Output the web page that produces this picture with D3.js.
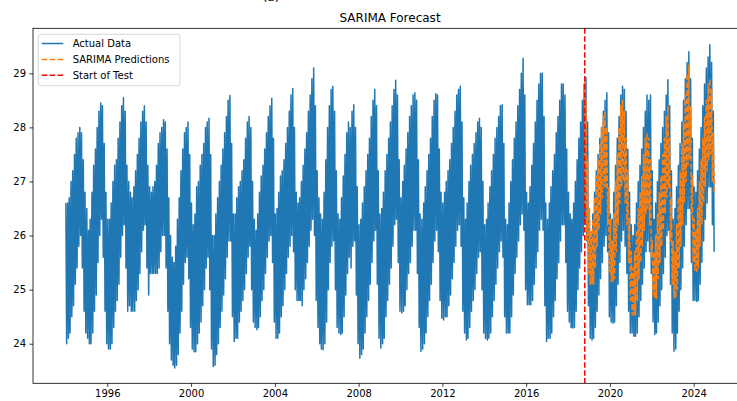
<!DOCTYPE html>
<html>
<head>
<meta charset="utf-8">
<script src="https://cdn.jsdelivr.net/npm/d3@7"></script>
<style>
  body { margin: 0; background: #fff; }
  text { font-family: "DejaVu Sans", sans-serif; }
</style>
</head>
<body>
<svg id="chart"></svg>
<script>
// monthly envelope of the daily series (Jan..Dec per year)
const years = [1994, 1995, 1996, 1997, 1998, 1999, 2000, 2001, 2002, 2003, 2004,
               2005, 2006, 2007, 2008, 2009, 2010, 2011, 2012, 2013, 2014, 2015,
               2016, 2017, 2018, 2019, 2020, 2021, 2022, 2023, 2024];

const actualHigh = [
  [26.6, 26.6, 26.7, 27.0, 27.2, 27.5, 27.8, 27.9, 28.0, 27.9, 27.4, 26.8],
  [26.5, 26.1, 26.3, 26.8, 27.3, 27.6, 28.0, 28.3, 28.45, 28.4, 27.7, 26.8],
  [26.3, 26.3, 26.6, 27.0, 27.3, 27.4, 27.8, 28.1, 28.4, 28.55, 28.3, 27.3],
  [27.0, 26.8, 26.7, 26.9, 27.2, 27.5, 27.8, 28.1, 28.3, 28.4, 28.1, 27.3],
  [26.9, 26.8, 26.9, 27.0, 27.3, 27.7, 27.9, 28.0, 28.14, 28.1, 27.6, 26.7],
  [26.0, 25.6, 25.5, 25.8, 26.3, 26.7, 27.2, 27.6, 27.9, 28.0, 28.1, 27.5],
  [26.6, 26.2, 26.4, 26.9, 27.0, 27.3, 27.5, 27.7, 28.0, 28.1, 28.17, 27.5],
  [26.0, 26.0, 26.4, 26.7, 27.0, 27.3, 27.6, 27.9, 28.2, 28.5, 28.59, 27.7],
  [26.4, 26.4, 26.7, 26.9, 27.0, 27.2, 27.4, 27.8, 28.1, 28.2, 28.0, 27.0],
  [26.3, 26.1, 26.4, 26.8, 27.1, 27.3, 27.6, 27.9, 28.2, 28.4, 28.54, 27.8],
  [26.4, 26.5, 26.8, 27.1, 27.2, 27.4, 27.7, 28.0, 28.3, 28.6, 28.72, 28.0],
  [26.8, 26.6, 26.7, 27.0, 27.3, 27.6, 27.9, 28.3, 28.6, 28.9, 29.1, 28.4],
  [27.2, 26.7, 26.4, 26.3, 26.8, 27.4, 28.0, 28.4, 28.7, 28.76, 28.3, 27.2],
  [26.4, 26.3, 26.7, 27.1, 27.5, 27.9, 28.1, 28.0, 28.3, 28.42, 28.0, 26.9],
  [26.2, 26.3, 26.6, 26.9, 27.2, 27.5, 27.8, 28.2, 28.5, 28.7, 28.4, 27.2],
  [26.4, 26.5, 26.8, 27.2, 27.5, 27.8, 28.1, 28.4, 28.7, 28.87, 28.6, 27.4],
  [26.7, 27.0, 27.3, 27.6, 27.9, 28.2, 28.4, 28.6, 28.64, 28.5, 27.4, 26.4],
  [26.3, 26.6, 26.9, 27.2, 27.5, 27.8, 28.2, 28.5, 28.62, 28.6, 27.6, 26.8],
  [26.6, 26.8, 27.0, 27.2, 27.4, 27.7, 28.0, 28.3, 28.6, 28.7, 28.76, 28.1],
  [26.7, 26.3, 26.6, 27.0, 27.3, 27.5, 27.7, 27.9, 28.1, 28.17, 28.0, 27.0],
  [26.2, 26.3, 26.6, 26.9, 27.2, 27.5, 27.8, 28.0, 28.2, 28.4, 28.42, 27.7],
  [26.3, 26.2, 26.6, 27.0, 27.4, 27.8, 28.1, 28.4, 28.7, 29.0, 29.28, 28.6],
  [26.8, 26.6, 26.9, 27.3, 27.7, 28.1, 28.5, 28.8, 29.0, 29.0, 28.2, 26.6],
  [26.3, 26.6, 26.9, 27.2, 27.5, 27.9, 28.2, 28.5, 28.8, 28.8, 28.6, 27.6],
  [26.8, 26.4, 26.3, 26.6, 27.0, 27.4, 27.8, 28.1, 28.5, 28.8, 28.92, 28.1],
  [26.3, 26.0, 26.4, 26.8, 27.2, 27.5, 27.8, 28.0, 28.3, 28.5, 28.64, 27.9],
  [26.4, 26.3, 26.8, 27.3, 27.8, 28.2, 28.6, 28.76, 28.7, 28.3, 27.6, 26.8],
  [26.2, 26.0, 26.2, 26.6, 27.0, 27.3, 27.6, 28.0, 28.3, 28.6, 28.5, 28.6],
  [27.2, 26.3, 26.6, 27.0, 27.4, 27.7, 28.0, 28.3, 28.6, 28.88, 28.4, 27.2],
  [26.3, 26.5, 26.9, 27.3, 27.7, 28.1, 28.5, 28.9, 29.2, 29.4, 28.9, 27.8],
  [26.9, 26.8, 27.2, 27.6, 28.0, 28.4, 28.8, 29.1, 29.3, 29.53, 29.2, 28.3]
];

const actualLow = [
  [24.0, 24.1, 24.2, 24.5, 24.7, 25.1, 25.4, 25.8, 26.0, 25.4, 24.6, 24.2],
  [24.1, 24.0, 24.0, 24.2, 24.6, 24.9, 25.5, 26.0, 26.3, 25.6, 24.6, 24.0],
  [23.9, 23.9, 24.0, 24.3, 24.6, 24.8, 25.1, 25.6, 26.0, 26.2, 25.4, 24.6],
  [24.7, 24.6, 24.6, 24.6, 24.8, 25.0, 25.3, 25.7, 26.1, 26.2, 25.4, 24.9],
  [25.3, 25.3, 25.3, 25.3, 25.3, 25.4, 25.7, 26.0, 26.0, 25.4, 24.6, 24.0],
  [23.7, 23.6, 23.55, 23.6, 23.8, 24.2, 24.6, 25.1, 25.5, 25.6, 25.2, 24.3],
  [23.9, 23.85, 23.85, 24.0, 24.2, 24.4, 24.7, 25.0, 25.4, 25.6, 25.0, 23.9],
  [23.58, 23.6, 23.8, 24.0, 24.3, 24.6, 24.9, 25.2, 25.6, 25.9, 25.9, 24.5],
  [24.04, 24.1, 24.1, 24.4, 24.6, 24.8, 25.0, 25.3, 25.6, 25.8, 25.0, 24.4],
  [24.3, 24.26, 24.3, 24.5, 24.8, 25.0, 25.3, 25.6, 25.9, 26.0, 25.5, 24.4],
  [24.1, 24.1, 24.2, 24.5, 24.7, 25.0, 25.3, 25.6, 25.8, 26.0, 25.7, 25.0],
  [24.8, 24.8, 24.8, 24.7, 25.0, 25.2, 25.5, 25.8, 26.1, 26.3, 26.0, 24.8],
  [24.3, 24.0, 23.9, 23.89, 24.0, 24.4, 25.0, 25.5, 25.8, 25.9, 25.0, 24.3],
  [24.2, 24.17, 24.2, 24.5, 24.9, 25.3, 25.6, 25.4, 25.8, 25.9, 24.9, 24.0],
  [23.73, 23.8, 23.9, 24.2, 24.5, 24.8, 25.1, 25.5, 25.9, 26.1, 25.1, 24.1],
  [23.92, 24.0, 24.1, 24.5, 24.8, 25.1, 25.4, 25.8, 26.2, 26.3, 25.5, 24.6],
  [24.57, 24.6, 24.7, 25.0, 25.3, 25.5, 25.8, 26.1, 26.1, 25.3, 24.3, 23.86],
  [23.9, 24.0, 24.2, 24.5, 24.8, 25.1, 25.5, 25.9, 26.1, 25.7, 24.8, 24.47],
  [24.44, 24.5, 24.5, 24.7, 24.9, 25.2, 25.5, 25.8, 26.1, 26.2, 25.8, 24.6],
  [24.2, 24.07, 24.1, 24.3, 24.6, 24.8, 25.0, 25.3, 25.6, 25.7, 25.0, 24.2],
  [24.1, 24.07, 24.1, 24.2, 24.5, 24.8, 25.1, 25.4, 25.7, 25.9, 25.6, 24.5],
  [24.2, 24.2, 24.2, 24.5, 24.9, 25.3, 25.6, 25.9, 26.2, 26.4, 26.1, 25.0],
  [24.72, 24.72, 24.72, 24.8, 25.1, 25.4, 25.7, 26.1, 26.3, 26.1, 24.7, 24.04],
  [24.1, 24.1, 24.2, 24.5, 24.8, 25.2, 25.5, 25.9, 26.2, 26.2, 25.5, 24.6],
  [24.4, 24.3, 24.29, 24.3, 24.6, 25.0, 25.4, 25.7, 26.0, 26.2, 25.9, 24.7],
  [24.1, 24.07, 24.1, 24.3, 24.6, 24.9, 25.2, 25.5, 25.8, 26.0, 25.7, 24.5],
  [24.4, 24.38, 24.4, 24.7, 25.1, 25.5, 25.9, 26.1, 25.8, 25.3, 24.6, 24.2],
  [24.2, 24.14, 24.14, 24.2, 24.5, 24.8, 25.1, 25.4, 25.7, 25.9, 25.7, 25.3],
  [24.4, 24.17, 24.2, 24.4, 24.7, 25.0, 25.3, 25.6, 26.0, 26.1, 25.1, 24.2],
  [23.86, 23.9, 24.2, 24.6, 25.0, 25.4, 25.8, 26.2, 26.5, 26.5, 25.5, 24.8],
  [24.8, 24.78, 24.8, 25.1, 25.5, 25.9, 26.3, 26.6, 26.9, 26.9, 26.2, 25.7]
];

// predictions, monthly from Oct 2018 to Dec 2024
const testStart = "2018-10-19";
const predHigh = [
  28.85, 28.5, 27.4,
  26.5, 26.1, 26.3, 26.7, 27.1, 27.4, 27.7, 28.0, 28.2, 28.3, 28.0, 26.9,
  26.3, 25.9, 26.4, 27.0, 27.5, 28.0, 28.4, 28.5, 28.3, 27.8, 27.2, 26.3,
  25.7, 25.4, 25.7, 26.1, 26.5, 26.8, 27.1, 27.5, 27.8, 27.9, 27.8, 27.4,
  25.9, 25.7, 26.0, 26.4, 26.8, 27.1, 27.5, 27.8, 28.2, 28.4, 27.8, 26.7,
  25.9, 25.7, 26.2, 26.7, 27.2, 27.7, 28.1, 28.6, 29.0, 29.15, 28.4, 27.1,
  26.3, 26.1, 26.5, 27.0, 27.4, 27.8, 28.2, 28.5, 28.8, 28.9, 28.7, 27.9
];
const predLow = [
  26.6, 25.9, 25.3,
  25.1, 25.1, 25.1, 25.4, 25.8, 26.1, 26.4, 26.7, 26.9, 26.9, 26.2, 25.3,
  25.15, 25.15, 25.2, 25.7, 26.2, 26.6, 26.9, 27.0, 26.6, 26.2, 25.5, 24.8,
  24.53, 24.53, 24.53, 24.8, 25.2, 25.5, 25.8, 26.1, 26.4, 26.5, 26.2, 25.6,
  24.9, 24.84, 24.84, 25.2, 25.5, 25.8, 26.1, 26.4, 26.7, 26.9, 25.9, 25.1,
  24.84, 24.84, 25.0, 25.4, 25.8, 26.2, 26.6, 27.0, 27.3, 27.4, 26.4, 25.5,
  25.34, 25.34, 25.4, 25.8, 26.2, 26.6, 26.9, 27.2, 27.4, 27.5, 27.0, 26.8
];

const xTickYears = [1996, 2000, 2004, 2008, 2012, 2016, 2020, 2024];
const yTicks = [24, 25, 26, 27, 28, 29];

const width = 737, height = 401;
const margin = { left: 33, top: 28.3, right: 747.1, bottom: 383.3 };

const svg = d3.select("#chart").attr("width", width).attr("height", height);

// build the zigzag series: high around the 8th, low around the 22nd of each month
const actual = [];
years.forEach((yr, i) => {
  for (let m = 0; m < 12; m++) {
    actual.push({ date: new Date(yr, m, 8), value: actualHigh[i][m] });
    actual.push({ date: new Date(yr, m, 22), value: actualLow[i][m] });
  }
});

const start = d3.timeParse("%Y-%m-%d")(testStart);
const pred = [];
predHigh.forEach((v, k) => {
  const yr = 2018 + Math.floor((9 + k) / 12), m = (9 + k) % 12;
  const d1 = k === 0 ? new Date(2018, 9, 20) : new Date(yr, m, 8);
  const d2 = k === 0 ? new Date(2018, 9, 27) : new Date(yr, m, 22);
  pred.push({ date: d1, value: v });
  pred.push({ date: d2, value: predLow[k] });
});

// matplotlib-like 5% padding round the data span
const t0 = new Date(1994, 0, 1), t1 = new Date(2024, 11, 31);
const pad = (t1 - t0) * 0.05;
const x = d3.scaleTime()
  .domain([new Date(+t0 - pad), new Date(+t1 + pad)])
  .range([margin.left, margin.right]);
const y = d3.scaleLinear()
  .domain([23.268, 29.832])
  .range([margin.bottom, margin.top]);

const line = d3.line().x(d => x(d.date)).y(d => y(d.value));

svg.append("path")
  .datum(actual)
  .attr("d", line)
  .attr("fill", "none")
  .attr("stroke", "#1f77b4")
  .attr("stroke-width", 1.5)
  .attr("stroke-linejoin", "round");

svg.append("path")
  .datum(pred)
  .attr("d", line)
  .attr("fill", "none")
  .attr("stroke", "#ff7f0e")
  .attr("stroke-width", 1.5)
  .attr("stroke-dasharray", "5.55,2.4")
  .attr("stroke-linejoin", "round");

svg.append("line")
  .attr("x1", x(start)).attr("x2", x(start))
  .attr("y1", margin.top).attr("y2", margin.bottom)
  .attr("stroke", "#ff0000")
  .attr("stroke-width", 1.5)
  .attr("stroke-dasharray", "5.55,2.4");

// axes
const xAxis = svg.append("g")
  .attr("transform", `translate(0,${margin.bottom})`)
  .call(d3.axisBottom(x)
    .tickValues(xTickYears.map(yr => new Date(yr, 0, 1)))
    .tickFormat(d3.timeFormat("%Y"))
    .tickSize(3.5).tickPadding(3.5));

const yAxis = svg.append("g")
  .attr("transform", `translate(${margin.left},0)`)
  .call(d3.axisLeft(y).tickValues(yTicks).tickFormat(d3.format("d"))
    .tickSize(3.5).tickPadding(3.5));

[xAxis, yAxis].forEach(g => {
  g.select(".domain").remove();
  g.selectAll(".tick line").attr("stroke", "#000").attr("stroke-width", 0.8);
  g.selectAll(".tick text").attr("font-size", 10).attr("fill", "#000")
    .attr("font-family", "DejaVu Sans, sans-serif");
});

svg.append("rect")
  .attr("x", margin.left).attr("y", margin.top)
  .attr("width", margin.right - margin.left)
  .attr("height", margin.bottom - margin.top)
  .attr("fill", "none")
  .attr("stroke", "#000")
  .attr("stroke-width", 0.8);

// title
svg.append("text")
  .attr("x", (margin.left + margin.right) / 2)
  .attr("y", 22.3)
  .attr("text-anchor", "middle")
  .attr("font-size", 12)
  .text("SARIMA Forecast");

// cut-off caption of the panel above, as in the reference
svg.append("text")
  .attr("x", 271)
  .attr("y", 0.5)
  .attr("text-anchor", "middle")
  .attr("font-size", 12)
  .text("(a)");

// legend
const legendItems = [
  { label: "Actual Data", color: "#1f77b4", dash: null },
  { label: "SARIMA Predictions", color: "#ff7f0e", dash: "5.55,2.4" },
  { label: "Start of Test", color: "#ff0000", dash: "5.55,2.4" }
];

const legend = svg.append("g");
legend.append("rect")
  .attr("x", 38.3).attr("y", 34.3)
  .attr("width", 141.7).attr("height", 51.4)
  .attr("rx", 2.5)
  .attr("fill", "#fff").attr("fill-opacity", 0.8)
  .attr("stroke", "#cccccc").attr("stroke-opacity", 0.8);

legendItems.forEach((d, i) => {
  const cy = 43.5 + i * 15.9;
  legend.append("line")
    .attr("x1", 41.7).attr("x2", 63.3)
    .attr("y1", cy).attr("y2", cy)
    .attr("stroke", d.color)
    .attr("stroke-width", 1.5)
    .attr("stroke-dasharray", d.dash);
  legend.append("text")
    .attr("x", 72.7).attr("y", cy + 3.6)
    .attr("font-size", 10)
    .text(d.label);
});
</script>
</body>
</html>
